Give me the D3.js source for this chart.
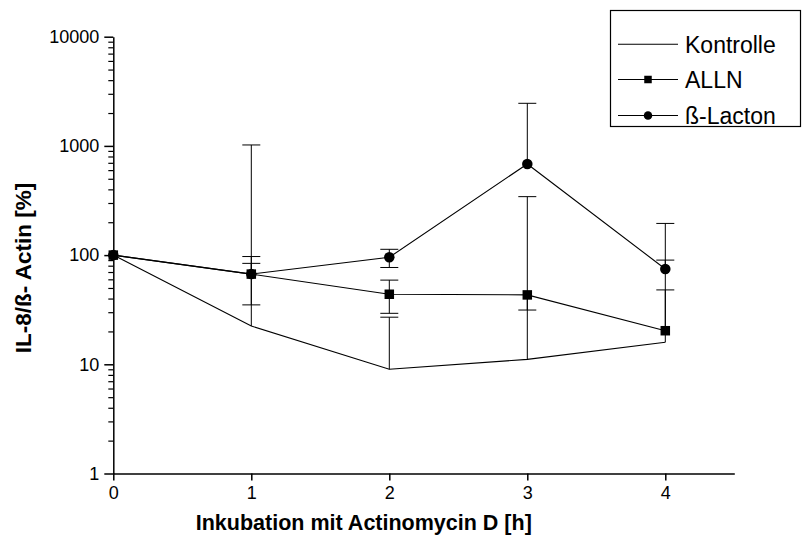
<!DOCTYPE html>
<html><head><meta charset="utf-8">
<script src="https://cdn.jsdelivr.net/npm/d3@7"></script>
<style>body{margin:0;background:#fff} svg text{font-family:"Liberation Sans",Arial,sans-serif;fill:#000}</style>
</head><body><svg id="c" width="803" height="545"></svg>
<script>
const hours = [0, 1, 2, 3, 4];
const kontrolle = [100, 22.4, 9.0, 11.1, 15.9];
const kontrolleUpper = [null, 1020, 27, 343, 195];
const kontrolleLower = [null, null, null, null, null];
const alln = [100, 67, 43.8, 43.2, 20.3];
const allnUpper = [null, 97, 59, null, 48];
const allnLower = [null, 35, 29.3, 31.4, null];
const lacton = [100, 67, 95.5, 683, 74.6];
const lactonUpper = [null, 84, 113, 2455, 90];
const lactonLower = [null, null, 77, null, null];
const yTicks = [1, 10, 100, 1000, 10000];
const xTicks = [0, 1, 2, 3, 4];
const seriesNames = ["Kontrolle", "ALLN", "ß-Lacton"];
const xTitle = "Inkubation mit Actinomycin D [h]";
const yTitle = "IL-8/ß- Actin [%]";

const svg = d3.select("#c");
const x = d3.scaleLinear().domain([0, 4.5]).range([113.3, 734.3]);
const y = d3.scaleLog().domain([1, 10000]).range([473.5, 36.7]);

const series = [
  {name: seriesNames[0], v: kontrolle, up: kontrolleUpper, lo: kontrolleLower, marker: null},
  {name: seriesNames[1], v: alln, up: allnUpper, lo: allnLower, marker: "square"},
  {name: seriesNames[2], v: lacton, up: lactonUpper, lo: lactonLower, marker: "circle"}
];

// minor ticks
const minor = [];
yTicks.slice(0, -1).forEach(d => { for (let k = 2; k <= 9; k++) minor.push(d * k); });

const gy = svg.append("g").attr("transform", `translate(${x(0)},0)`)
  .call(d3.axisLeft(y).tickValues(yTicks).tickFormat(d3.format("d")).tickSize(9).tickSizeOuter(0).tickPadding(5));
gy.selectAll("text").attr("font-size", 18).attr("font-family", "Liberation Sans, Arial, sans-serif");
gy.selectAll("line,path").attr("stroke", "#000").attr("stroke-width", 1.5);

const gym = svg.append("g").attr("transform", `translate(${x(0)},0)`)
  .call(d3.axisLeft(y).tickValues(minor).tickFormat("").tickSize(5).tickSizeOuter(0));
gym.select("path").remove();
gym.selectAll("line").attr("stroke", "#000").attr("stroke-width", 1.2);

const gx = svg.append("g").attr("transform", `translate(0,${y(1)})`)
  .call(d3.axisBottom(x).tickValues(xTicks).tickFormat(d3.format("d")).tickSize(7).tickSizeOuter(0).tickPadding(6));
gx.selectAll("text").attr("font-size", 18).attr("font-family", "Liberation Sans, Arial, sans-serif");
gx.selectAll("line,path").attr("stroke", "#000").attr("stroke-width", 1.5);

// error bars
const capW = 9;
series.forEach(s => {
  hours.forEach((h, i) => {
    const top = s.up[i] != null ? s.up[i] : s.v[i];
    const bot = s.lo[i] != null ? s.lo[i] : s.v[i];
    if (top === bot) return;
    svg.append("line").attr("x1", x(h)).attr("x2", x(h)).attr("y1", y(top)).attr("y2", y(bot))
      .attr("stroke", "#000").attr("stroke-width", 1);
    [s.up[i], s.lo[i]].forEach(c => {
      if (c == null) return;
      svg.append("line").attr("x1", x(h) - capW).attr("x2", x(h) + capW).attr("y1", y(c)).attr("y2", y(c))
        .attr("stroke", "#000").attr("stroke-width", 1);
    });
  });
});

// lines
const line = d3.line().x((d, i) => x(hours[i])).y(d => y(d));
series.forEach(s => {
  svg.append("path").attr("d", line(s.v)).attr("fill", "none").attr("stroke", "#000").attr("stroke-width", 1.1);
});

// markers
function drawMarker(g, type, cx, cy, size) {
  if (type === "square") g.append("rect").attr("x", cx - size / 2).attr("y", cy - size / 2).attr("width", size).attr("height", size).attr("fill", "#000");
  else if (type === "circle") g.append("circle").attr("cx", cx).attr("cy", cy).attr("r", size / 2 + 0.5).attr("fill", "#000");
}
series.forEach(s => {
  if (!s.marker) return;
  s.v.forEach((v, i) => drawMarker(svg, s.marker, x(hours[i]), y(v), 9.5));
});

// legend
const lg = svg.append("g");
lg.append("rect").attr("x", 610.5).attr("y", 10.5).attr("width", 190).attr("height", 116)
  .attr("fill", "#fff").attr("stroke", "#000").attr("stroke-width", 1.2);
const rowY = [44.3, 79.5, 115.5];
series.forEach((s, i) => {
  lg.append("line").attr("x1", 618).attr("x2", 678).attr("y1", rowY[i]).attr("y2", rowY[i]).attr("stroke", "#000").attr("stroke-width", 1.1);
  if (s.marker) drawMarker(lg, s.marker, 648, rowY[i], 7.5);
  lg.append("text").attr("x", 685).attr("y", rowY[i] + 8.5).attr("font-size", 23).text(s.name);
});

// titles
svg.append("text").attr("x", x(0) + (x(4.5) - x(0)) / 2 - 60).attr("y", 530).attr("text-anchor", "middle")
  .attr("font-size", 21.5).attr("font-weight", "bold").text(xTitle);
svg.append("text").attr("transform", `translate(31,268) rotate(-90)`).attr("text-anchor", "middle")
  .attr("font-size", 22.5).attr("font-weight", "bold").text(yTitle);
</script></body></html>
